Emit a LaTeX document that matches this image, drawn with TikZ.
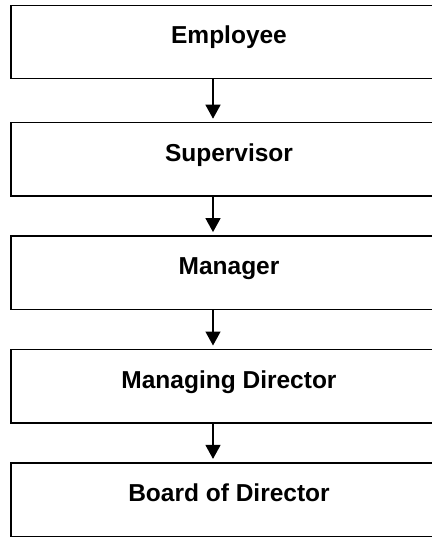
\documentclass[tikz,border=0pt]{standalone}
\usepackage{fontspec}
\setmainfont{Liberation Sans}
\usetikzlibrary{positioning,arrows.meta}
\tikzset{post/.style={draw,line width=1.4pt,outer sep=0pt,inner sep=0pt,
	   minimum width=436pt,minimum height=73.4pt,text height=12pt,text depth=8pt,
	   font=\fontsize{24.5}{29}\selectfont\bfseries},
	 up/.style={line width=1.4pt,-{Triangle[width=15pt,length=14pt]},shorten >=4pt},
	 node distance = 40pt
	 }

\begin{document}
\begin{tikzpicture}[x=1pt,y=1pt] % reporting chain, one box per level
	\useasboundingbox[fill=white] (0,0) rectangle (431,-537);
	\node[post] (emp) at (229,-42) {Employee};
	\node[post] (sup) [below=44pt of emp] {Supervisor};
	\node[post] (man) [below= of sup] {Manager};
	\node[post] (mdir) [below= of man] {Managing Director};
	\node[post] (board) [below= of mdir] {Board of Director};
	\draw[up] ([xshift=-16pt]emp.south) to ([xshift=-16pt]sup.north);
	\draw[up] ([xshift=-16pt]sup.south) to ([xshift=-16pt]man.north);
	\draw[up] ([xshift=-16pt]man.south) to ([xshift=-16pt]mdir.north);
	\draw[up] ([xshift=-16pt]mdir.south) to ([xshift=-16pt]board.north);
\end{tikzpicture}
\end{document}
